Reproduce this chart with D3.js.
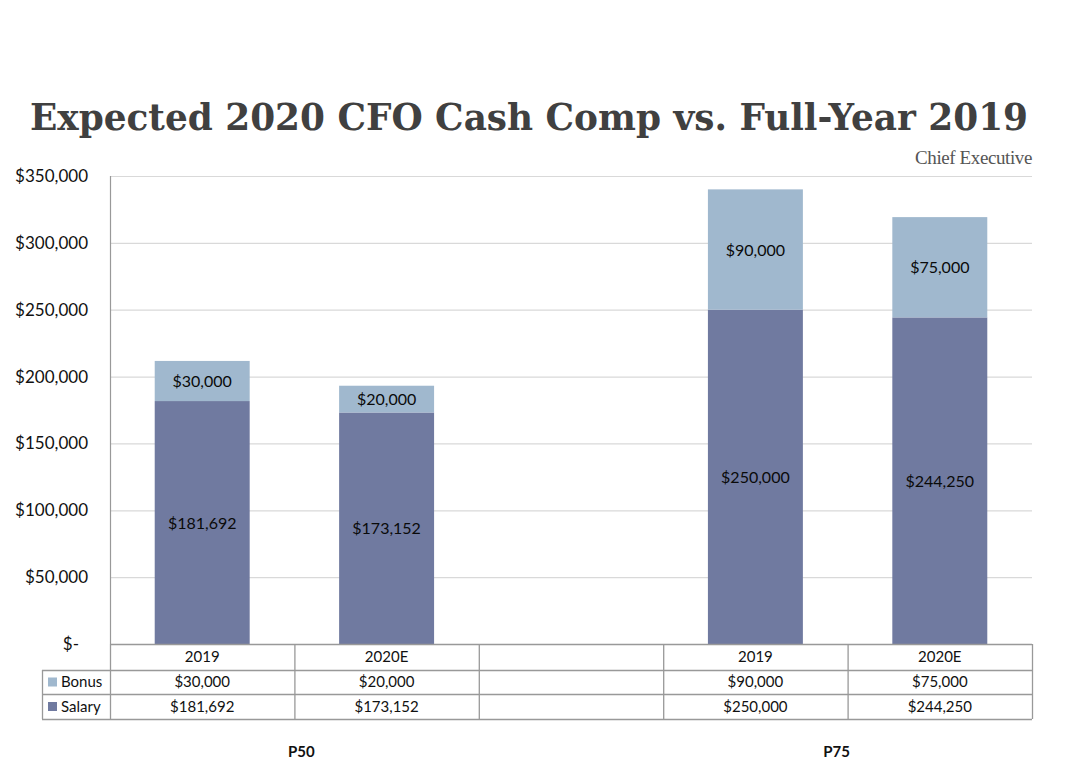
<!DOCTYPE html>
<html><head><meta charset="utf-8">
<script src="https://cdn.jsdelivr.net/npm/d3@7"></script>
<style>body{margin:0;background:#fff}svg{display:block}</style>
</head><body>
<svg id="c" width="1068" height="774"></svg>
<script>
const title = "Expected 2020 CFO Cash Comp vs. Full-Year 2019";
const brand = "Chief Executive";
const slots = ["P50|2019", "P50|2020E", "gap", "P75|2019", "P75|2020E"];
const years = ["2019", "2020E", "", "2019", "2020E"];
const groups = ["P50", "P75"];
const salary = [181692, 173152, null, 250000, 244250];
const bonus = [30000, 20000, null, 90000, 75000];
const yTicks = [0, 50000, 100000, 150000, 200000, 250000, 300000, 350000];
const seriesNames = ["Bonus", "Salary"];

(function () {
const colors = {Salary: "#707aa0", Bonus: "#a0b8ce"};
const font = "Lato, 'Open Sans', sans-serif";
const svg = d3.select("#c");

const pL = 110, pR = 1032, pT = 176, pB = 644;
const x = d3.scaleBand().domain(slots).range([pL, pR]).padding(0);
const y = d3.scaleLinear().domain([0, 350000]).range([pB, pT]);
const bw = x.bandwidth() * 0.515;
const fmt = v => "$" + d3.format(",")(v);

// title
svg.append("text").attr("x", 30).attr("y", 130)
  .attr("font-family", "'DejaVu Serif', serif").attr("font-weight", "bold")
  .attr("font-size", 37).attr("fill", "#404040")
  .attr("textLength", 998).attr("lengthAdjust", "spacingAndGlyphs")
  .text(title);
svg.append("text").attr("x", 1032).attr("y", 164).attr("text-anchor", "end")
  .attr("font-family", "'Liberation Serif', 'DejaVu Serif', serif")
  .attr("font-size", 19).attr("fill", "#555").attr("letter-spacing", -0.4)
  .text(brand);

// gridlines
svg.append("g").selectAll("line").data(yTicks.filter(d => d > 0)).join("line")
  .attr("x1", pL).attr("x2", pR)
  .attr("y1", d => y(d) + 0.5).attr("y2", d => y(d) + 0.5)
  .attr("stroke", "#d9d9d9").attr("stroke-width", 1.2);

// y axis labels
svg.append("g").selectAll("text").data(yTicks).join("text")
  .attr("x", d => d === 0 ? 79 : 88).attr("y", d => y(d) + 6)
  .attr("text-anchor", "end").attr("font-family", font).attr("font-size", 17)
  .attr("fill", "#111")
  .text(d => d === 0 ? "$-" : fmt(d));

// bars
const data = slots.map((s, i) => ({s, salary: salary[i], bonus: bonus[i]})).filter(d => d.salary != null);
const gb = svg.append("g");
data.forEach(d => {
  const cx = x(d.s) + x.bandwidth() / 2;
  gb.append("rect").attr("x", cx - bw / 2).attr("width", bw)
    .attr("y", y(d.salary)).attr("height", y(0) - y(d.salary)).attr("fill", colors.Salary);
  gb.append("rect").attr("x", cx - bw / 2).attr("width", bw)
    .attr("y", y(d.salary + d.bonus)).attr("height", y(d.salary) - y(d.salary + d.bonus)).attr("fill", colors.Bonus);
  gb.append("text").attr("x", cx).attr("y", (y(0) + y(d.salary)) / 2 + 6)
    .attr("text-anchor", "middle").attr("font-family", font).attr("font-size", 16).attr("fill", "#0a0a0a")
    .text(fmt(d.salary));
  gb.append("text").attr("x", cx).attr("y", (y(d.salary) + y(d.salary + d.bonus)) / 2 + 6)
    .attr("text-anchor", "middle").attr("font-family", font).attr("font-size", 16).attr("fill", "#0a0a0a")
    .text(fmt(d.bonus));
});

// axis line
svg.append("line").attr("x1", pL + 0.5).attr("x2", pL + 0.5).attr("y1", pT).attr("y2", pB)
  .attr("stroke", "#999").attr("stroke-width", 1.2);

// data table
const rowH = [pB, 670, 694, 719];
const tLeft = 42;
const tg = svg.append("g").attr("stroke", "#999").attr("stroke-width", 1.3).attr("fill", "none");
tg.append("line").attr("x1", pL).attr("x2", pR).attr("y1", rowH[0] + 0.5).attr("y2", rowH[0] + 0.5);
[1, 2, 3].forEach(i => tg.append("line").attr("x1", tLeft).attr("x2", pR).attr("y1", rowH[i] + 0.5).attr("y2", rowH[i] + 0.5));
slots.forEach(s => tg.append("line").attr("x1", x(s) + 0.5).attr("x2", x(s) + 0.5).attr("y1", rowH[0]).attr("y2", rowH[3]));
tg.append("line").attr("x1", pR + 0.5).attr("x2", pR + 0.5).attr("y1", rowH[0]).attr("y2", rowH[3]);
tg.append("line").attr("x1", tLeft + 0.5).attr("x2", tLeft + 0.5).attr("y1", rowH[1]).attr("y2", rowH[3]);

const tt = svg.append("g").attr("font-family", font).attr("font-size", 15).attr("fill", "#111").attr("text-anchor", "middle");
slots.forEach((s, i) => {
  const cx = x(s) + x.bandwidth() / 2;
  tt.append("text").attr("x", cx).attr("y", (rowH[0] + rowH[1]) / 2 + 5).text(years[i]);
  if (bonus[i] != null) tt.append("text").attr("x", cx).attr("y", (rowH[1] + rowH[2]) / 2 + 5).text(fmt(bonus[i]));
  if (salary[i] != null) tt.append("text").attr("x", cx).attr("y", (rowH[2] + rowH[3]) / 2 + 5).text(fmt(salary[i]));
});
seriesNames.forEach((n, i) => {
  const cy = (rowH[i + 1] + rowH[i + 2]) / 2;
  svg.append("rect").attr("x", 48).attr("y", cy - 4.5).attr("width", 9).attr("height", 9).attr("fill", colors[n]);
  svg.append("text").attr("x", 61).attr("y", cy + 5).attr("font-family", font).attr("font-size", 15).attr("fill", "#111").text(n);
});

// group labels
const gOff = {P50: 7, P75: -11};
groups.forEach(g => {
  const a = x(g + "|2019"), b = x(g + "|2020E") + x.bandwidth();
  svg.append("text").attr("x", (a + b) / 2 + gOff[g]).attr("y", 757).attr("text-anchor", "middle")
    .attr("font-family", font).attr("font-weight", "bold").attr("font-size", 15).attr("fill", "#111").text(g);
});
})();
</script>
</body></html>
